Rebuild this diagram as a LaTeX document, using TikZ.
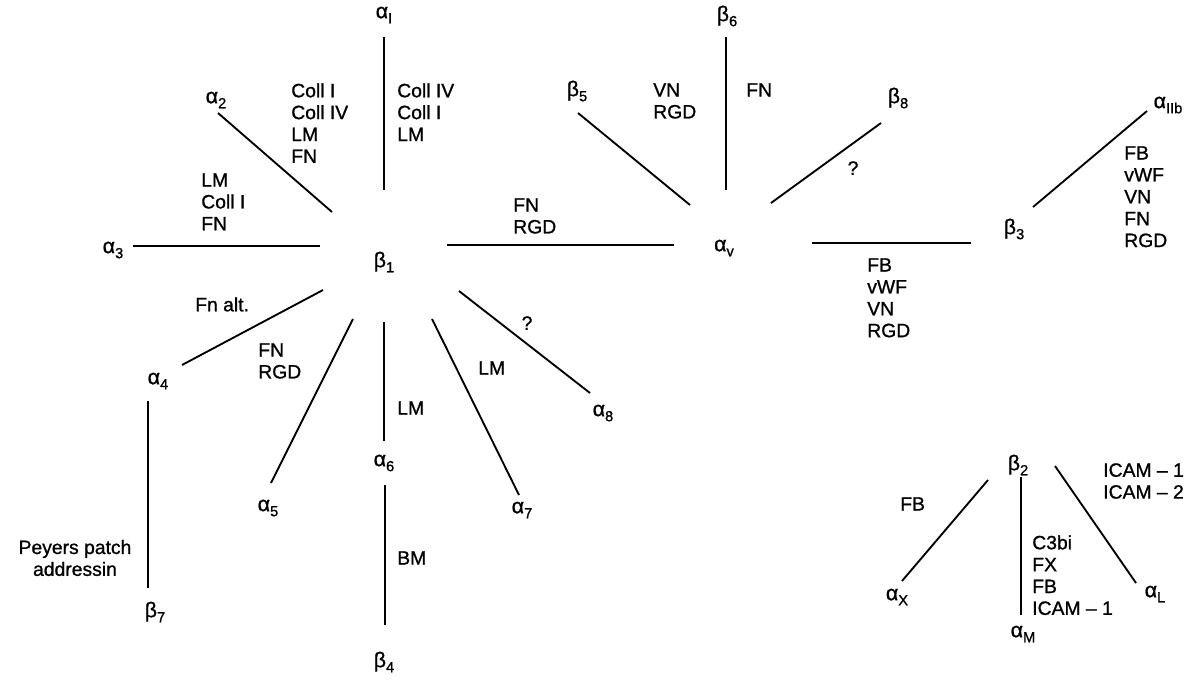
\documentclass[tikz,border=0pt]{standalone}
\usepackage{fontspec}
\usepackage{graphicx}
\setmainfont{Liberation Sans}[FakeBold=1.0]
\newcommand\gsub[2]{#1\raisebox{-0.45ex}{\fontsize{11}{11}\selectfont #2}}
\tikzset{
  bond/.style={line width=1.4pt},
  gk/.style={inner sep=0pt, font=\fontsize{16}{18}\selectfont},
  lig/.style={inner sep=0pt, anchor=north west, align=left, font=\fontsize{14.5}{16.4}\selectfont},
  ligc/.style={inner sep=0pt, align=center, font=\fontsize{14.5}{16.4}\selectfont},
}
\begin{document}
\begin{tikzpicture}[x=0.75pt,y=-0.75pt]
\useasboundingbox (0,0) rectangle (1194,679);
% ---------- beta1 star ----------
\node[gk] (b1) at (384,262) {\gsub{β}{1}};
\node[gk] (a1) at (384,15) {\gsub{α}{I}};
\coordinate (a1e) at (384,37); \coordinate (a1s) at (384,190);
\draw[bond] (a1e) -- (a1s);
\node[lig] (t1) at (397,83) {Coll IV\\Coll I\\LM};
\node[lig] (t2) at (291,83) {Coll I\\Coll IV\\LM\\FN};
\node[gk] (a2) at (216,100) {\gsub{α}{2}};
\coordinate (a2e) at (218,113); \coordinate (a2s) at (332,212);
\draw[bond] (a2e) -- (a2s);
\node[lig] (t3) at (201,173) {LM\\Coll I\\FN};
\node[gk] (a3) at (113,250) {\gsub{α}{3}};
\coordinate (a3e) at (133,246); \coordinate (a3s) at (320,246);
\draw[bond] (a3e) -- (a3s);
\node[lig] (t4) at (513,198) {FN\\RGD};
\coordinate (bve) at (447,245); \coordinate (bvs) at (674,245);
\draw[bond] (bve) -- (bvs);
\node[lig] (t5) at (195,297) {Fn alt.};
\node[gk] (a4) at (158,381) {\gsub{α}{4}};
\coordinate (a4e) at (182,365); \coordinate (a4s) at (323,290);
\draw[bond] (a4e) -- (a4s);
\coordinate (b7s) at (148,401); \coordinate (b7e) at (148,588);
\draw[bond] (b7s) -- (b7e);
\node[gk] (b7) at (155,612) {\gsub{β}{7}};
\node[ligc] (t6) at (75,558) {Peyers patch\\addressin};
\node[lig] (t7) at (258,343) {FN\\RGD};
\node[gk] (a5) at (268,508) {\gsub{α}{5}};
\coordinate (a5s) at (353,319); \coordinate (a5e) at (271,483);
\draw[bond] (a5s) -- (a5e);
\coordinate (a6s) at (384,322); \coordinate (a6e) at (384,441);
\draw[bond] (a6s) -- (a6e);
\node[lig] (t8) at (397,401) {LM};
\node[gk] (a6) at (384,463) {\gsub{α}{6}};
\coordinate (b4s) at (385,485); \coordinate (b4e) at (385,625);
\draw[bond] (b4s) -- (b4e);
\node[lig] (t9) at (397,551) {BM};
\node[gk] (b4) at (384,662) {\gsub{β}{4}};
\coordinate (a7s) at (432,319); \coordinate (a7e) at (519,495);
\draw[bond] (a7s) -- (a7e);
\node[lig] (t10) at (478,361) {LM};
\node[gk] (a7) at (522,510) {\gsub{α}{7}};
\coordinate (a8s) at (459,291); \coordinate (a8e) at (590,393);
\draw[bond] (a8s) -- (a8e);
\node[ligc] (t11) at (527,323) {?};
\node[gk] (a8) at (603,413) {\gsub{α}{8}};
% ---------- alpha v star ----------
\node[gk] (av) at (724,248) {\gsub{α}{v}};
\node[gk] (b6) at (727,16) {\gsub{β}{6}};
\coordinate (b6e) at (726,37); \coordinate (b6s) at (726,190);
\draw[bond] (b6e) -- (b6s);
\node[lig] (t12) at (746,83) {FN};
\node[lig] (t13) at (653,83) {VN\\RGD};
\node[gk] (b5) at (577,91) {\gsub{β}{5}};
\coordinate (b5e) at (578,113); \coordinate (b5s) at (690,205);
\draw[bond] (b5e) -- (b5s);
\node[gk] (b8) at (898,98) {\gsub{β}{8}};
\coordinate (b8e) at (881,123); \coordinate (b8s) at (771,203);
\draw[bond] (b8e) -- (b8s);
\node[ligc] (t14) at (853,168) {?};
\coordinate (b3s) at (812,243); \coordinate (b3e) at (971,243);
\draw[bond] (b3s) -- (b3e);
\node[lig] (t15) at (867,258) {FB\\vWF\\VN\\RGD};
\node[gk] (b3) at (1014,229) {\gsub{β}{3}};
\coordinate (abs) at (1033,207); \coordinate (abe) at (1147,111);
\draw[bond] (abs) -- (abe);
\node[gk] (aIIb) at (1168,105) {\gsub{α}{IIb}};
\node[lig] (t16) at (1124,146) {FB\\vWF\\VN\\FN\\RGD};
% ---------- beta2 ----------
\node[gk] (b2) at (1018,465) {\gsub{β}{2}};
\coordinate (axs) at (988,480); \coordinate (axe) at (902,581);
\draw[bond] (axs) -- (axe);
\node[gk] (aX) at (897,597) {\gsub{α}{X}};
\node[lig] (t17) at (900,497) {FB};
\coordinate (ams) at (1021,477); \coordinate (ame) at (1021,615);
\draw[bond] (ams) -- (ame);
\node[gk] (aM) at (1023,634) {\gsub{α}{M}};
\node[lig] (t18) at (1032,535) {C3bi\\FX\\FB\\ICAM – 1};
\coordinate (als) at (1055,466); \coordinate (ale) at (1136,583);
\draw[bond] (als) -- (ale);
\node[gk] (aL) at (1155,594) {\gsub{α}{L}};
\node[lig] (t19) at (1103,463) {ICAM – 1\\ICAM – 2};
\end{tikzpicture}
\end{document}
